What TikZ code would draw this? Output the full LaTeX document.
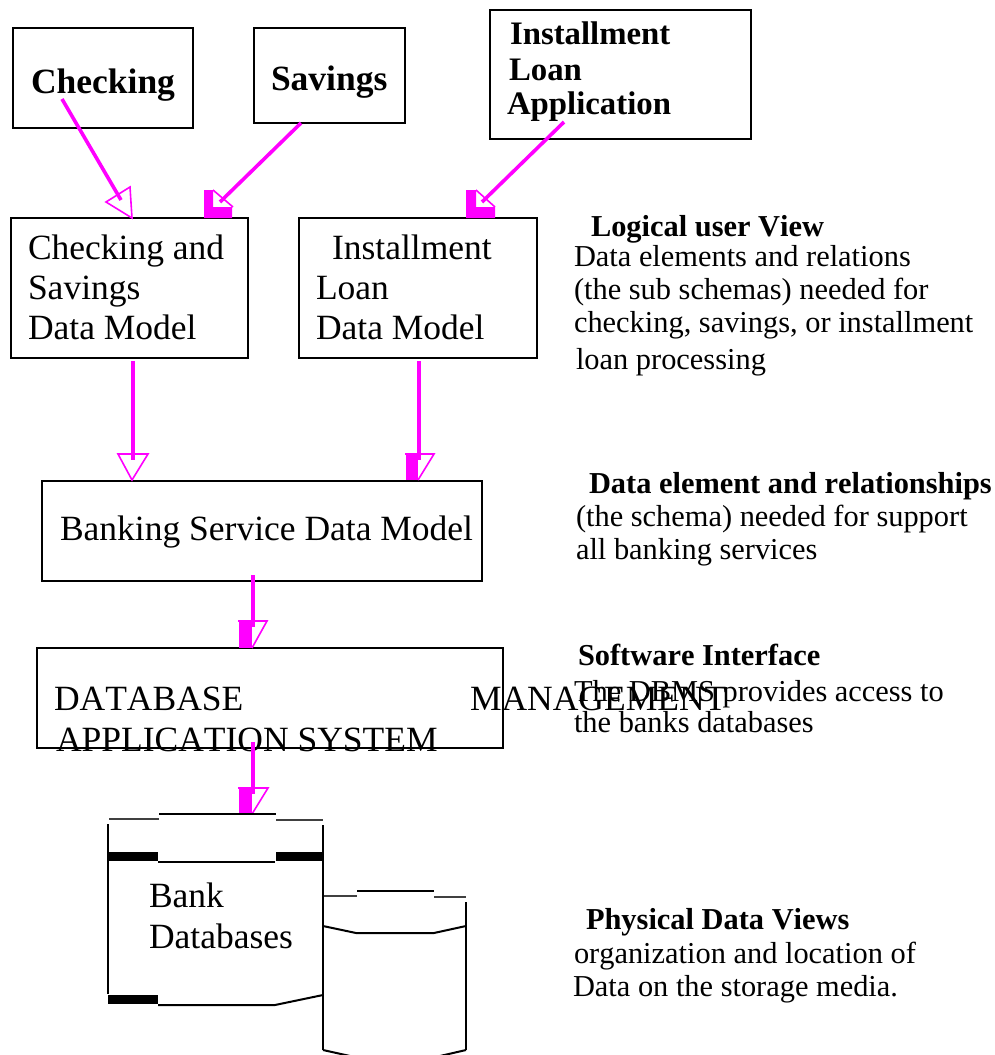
\documentclass[tikz,border=0pt]{standalone}
\usepackage{fontspec}
\setmainfont[Kerning=Off]{Liberation Serif}
\definecolor{mag}{RGB}{255,0,255}
\newcommand{\bigtxt}{\fontsize{35.5}{40}\selectfont}
\newcommand{\midtxt}{\fontsize{32.8}{36}\selectfont}
\newcommand{\smalltxt}{\fontsize{30.4}{34}\selectfont}
\tikzset{
  box/.style={draw=black,line width=2.2pt,fill=none,inner sep=0pt,outer sep=0pt},
  lbl/.style={anchor=base west,inner sep=0pt,outer sep=0pt,font=\bigtxt},
  blbl/.style={lbl,font=\bigtxt\bfseries},
  mlbl/.style={lbl,font=\midtxt\bfseries},
  rtxt/.style={lbl,font=\smalltxt},
  rhead/.style={lbl,font=\smalltxt\bfseries},
  conn/.style={draw=mag,line width=3.6pt},
  head/.style={draw=mag,line width=1.6pt,line join=miter,fill=none},
  solidpart/.style={fill=mag,draw=none},
  thinl/.style={draw=black!75,line width=1.1pt},
  medl/.style={draw=black,line width=2pt},
  thickbar/.style={fill=black,draw=none}
}
\begin{document}
\begin{tikzpicture}[x=1pt,y=-1pt]
\useasboundingbox (0,0) rectangle (994,1055);
% boxes
\node[box,minimum width=180pt,minimum height=100pt] (chk) at (103,78) {};
\node[box,minimum width=151pt,minimum height=95pt] (sav) at (329.5,75.5) {};
\node[box,minimum width=261pt,minimum height=129pt] (ins) at (620.5,74.5) {};
\node[box,minimum width=237pt,minimum height=140pt] (csm) at (129.5,288) {};
\node[box,minimum width=238pt,minimum height=140pt] (ilm) at (418,288) {};
\node[box,minimum width=440pt,minimum height=100pt] (bsm) at (262,531) {};
\node[box,minimum width=466pt,minimum height=100pt] (dbm) at (270,698) {};
% box text
\node[blbl] (t1) at (31,93) {Checking};
\node[blbl] (t2) at (271,90) {Savings};
\node[mlbl] (t3) at (510,44) {Installment};
\node[mlbl] (t4) at (509,80) {Loan};
\node[mlbl] (t5) at (507,114) {Application};
\node[lbl] (t6) at (28,259) {Checking and};
\node[lbl] (t7) at (28,299) {Savings};
\node[lbl] (t8) at (28,339) {Data Model};
\node[lbl] (t9) at (332,259) {Installment};
\node[lbl] (t10) at (316,299) {Loan};
\node[lbl] (t11) at (316,339) {Data Model};
\node[lbl] (t12) at (60,540) {Banking Service Data Model};
\node[lbl] (t13) at (54,710) {DATABASE};
\node[lbl] (t14) at (470,710) {MANAGEMENT};
\node[lbl] (t15) at (56,751) {APPLICATION SYSTEM};
\node[lbl] (t16) at (149,907) {Bank};
\node[lbl] (t17) at (149,948) {Databases};
% right text
\node[rhead] (r1) at (591,236) {Logical user View};
\node[rtxt] (r2) at (574,266) {Data elements and relations};
\node[rtxt] (r3) at (574,299) {(the sub schemas) needed for};
\node[rtxt] (r4) at (574,332) {checking, savings, or installment};
\node[rtxt] (r5) at (576,369) {loan processing};
\node[rhead] (r6) at (589,493) {Data element and relationships};
\node[rtxt] (r7) at (576,526) {(the schema) needed for support};
\node[rtxt] (r8) at (576,559) {all banking services};
\node[rhead] (r9) at (578,665) {Software Interface};
\node[rtxt] (r10) at (574,701) {The DBMS provides access to};
\node[rtxt] (r11) at (574,732) {the banks databases};
\node[rhead] (r12) at (586,929) {Physical Data Views};
\node[rtxt] (r13) at (574,963) {organization and location of};
\node[rtxt] (r14) at (573,996) {Data on the storage media.};
% connector ends
\coordinate (a1s) at (62,99);   \coordinate (a1e) at (121,200);
\coordinate (a2s) at (301,123); \coordinate (a2e) at (220,202);
\coordinate (a3s) at (564,122); \coordinate (a3e) at (482,202);
\coordinate (a4s) at (133,361); \coordinate (a4e) at (133,460);
\coordinate (a5s) at (419,361); \coordinate (a5e) at (419,460);
\coordinate (a6s) at (253,575); \coordinate (a6e) at (253,627);
\coordinate (a7s) at (253,742); \coordinate (a7e) at (253,794);
% solid parts of heads
\fill[solidpart] (204,190) -- (213,190) -- (213,207) -- (232,207) -- (232,218) -- (204,218) -- cycle;
\fill[solidpart] (466,190) -- (476,190) -- (476,207) -- (495,207) -- (495,218) -- (466,218) -- cycle;
\fill[solidpart] (406,454) rectangle (418,480);
\fill[solidpart] (239,621) rectangle (252,648);
\fill[solidpart] (239,788) rectangle (252,814);
% connectors
\draw[conn] (a1s) -- (a1e);
\draw[conn] (a2s) -- (a2e);
\draw[conn] (a3s) -- (a3e);
\draw[conn] (a4s) -- (a4e);
\draw[conn] (a5s) -- (a5e);
\draw[conn] (a6s) -- (a6e);
\draw[conn] (a7s) -- (a7e);
% heads
\draw[head] (106,202) -- (130,187) -- (132,218) -- cycle;
\draw[head] (213,190) -- (233,207);
\draw[head] (476,190) -- (495,207);
\draw[head] (118,454) -- (148,454) -- (132,480) -- cycle;
\draw[head] (405,454) -- (434,454) -- (418,480);
\draw[head] (238,621) -- (267,621) -- (252,648);
\draw[head] (238,788) -- (268,788) -- (252,814);
% big cylinder
\draw[thinl] (109,819) -- (159,819);
\draw[medl] (159,814) -- (276,814);
\draw[thinl] (276,820) -- (323,820);
\draw[medl] (108,824) -- (108,994);
\draw[medl] (323,825) -- (323,1050);
\fill[thickbar] (108,851.5) rectangle (158,861);
\fill[thickbar] (276,852) rectangle (323,861);
\draw[medl] (158,862) -- (275,862);
\fill[thickbar] (108,995) rectangle (158,1004);
\draw[medl] (158,1005) -- (275,1005) -- (323,995);
% small cylinder
\draw[thinl] (324,896) -- (357,896);
\draw[medl] (357,891) -- (434,891);
\draw[thinl] (434,897) -- (466,897);
\draw[medl] (466,902) -- (466,1050);
\draw[medl] (323,926) -- (356,933) -- (434,933) -- (466,926);
\draw[medl] (323,1050) -- (350,1056);
\draw[medl] (466,1050) -- (440,1056);
\end{tikzpicture}
\end{document}
